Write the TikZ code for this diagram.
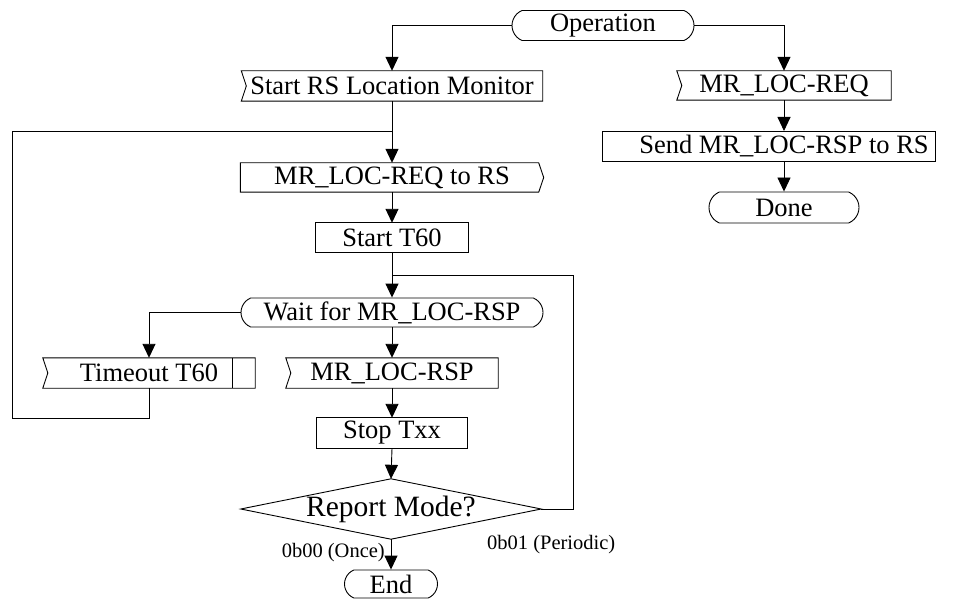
\documentclass[tikz,border=0pt]{standalone}
\usepackage{fontspec}
\setmainfont{Liberation Serif}
\usetikzlibrary{arrows.meta,shapes.misc}
\begin{document}
\begin{tikzpicture}[x=1pt,y=-1pt,
  font=\fontsize{26.5}{30}\selectfont,
  ln/.style={line width=0.9pt},
  arr/.style={ln,-{Triangle[width=13pt,length=14pt]}},
  plain/.style={inner sep=0pt,minimum height=30pt},
  term/.style={rounded rectangle,rounded rectangle arc length=135,draw,ln,inner sep=0pt,minimum height=30pt},
  lbl/.style={font=\fontsize{20.5}{24}\selectfont,inner sep=0pt}]
\useasboundingbox (0,0) rectangle (959,599);
% nodes
\node[term,minimum width=182pt] (op) at (603,25.5) {Operation};
\node[plain,minimum width=301pt] (srs) at (392,86) {Start RS Location Monitor};
\node[plain,minimum width=214pt,minimum height=29pt] (mrq) at (784,85.5) {MR\_LOC-REQ};
\node[plain] (send) at (784,146) {Send MR\_LOC-RSP to RS};
\node[term,minimum width=150pt,minimum height=31pt] (done) at (784,207.5) {Done};
\node[plain,minimum width=303pt,minimum height=29pt] (mrs) at (392,177.5) {MR\_LOC-REQ to RS};
\node[plain,minimum width=153pt,minimum height=29pt] (st) at (392,237.5) {Start T60};
\node[term,minimum width=302pt,minimum height=29pt] (wait) at (392,312.5) {Wait for MR\_LOC-RSP};
\node[plain,minimum width=212pt] (tout) at (149,373) {Timeout T60};
\node[plain,minimum width=212pt] (rsp) at (392,373) {MR\_LOC-RSP};
\node[plain,minimum width=151pt] (stop) at (392,433) {Stop Txx};
\node[plain,minimum width=300pt,minimum height=60pt,font=\fontsize{29.5}{33}\selectfont] (dia) at (391,509) {Report Mode?};
\node[term,minimum width=93pt,minimum height=28pt] (end) at (391,584) {End};
\node[lbl,anchor=east] (once) at (385,553) {0b00 (Once)};
\node[lbl,anchor=west] (per) at (487,545) {0b01 (Periodic)};
% outlines
\foreach \n in {srs,mrq,tout,rsp}
  \draw[ln] (\n.north west) -- (\n.north east) -- (\n.south east) -- (\n.south west) -- ([xshift=5pt]\n.west) -- cycle;
\draw[ln] (mrs.north west) -- ([xshift=-5pt]mrs.north east) -- (mrs.east) -- ([xshift=-5pt]mrs.south east) -- (mrs.south west) -- cycle;
\foreach \n in {st,stop}
  \draw[ln] (\n.north west) rectangle (\n.south east);
\coordinate (sL) at (602,131);
\coordinate (sR) at (935,161);
\draw[ln] (sL) rectangle (sR);
\draw[ln] ([xshift=-23pt]tout.north east) -- ([xshift=-23pt]tout.south east);
\draw[ln] (dia.north) -- (dia.east) -- (dia.south) -- (dia.west) -- cycle;
% coordinates
\coordinate (y131) at (0,131);
\coordinate (y275) at (0,275);
\coordinate (j1) at (srs.south |- y131);
\coordinate (j2) at (st.south |- y275);
\coordinate (lpL) at (12,418);
\coordinate (rr) at (573,275);
% connectors
\draw[arr] (op.west) -| (srs.north);
\draw[arr] (op.east) -| (mrq.north);
\draw[arr] (mrq.south) -- (mrq.south |- sL);
\draw[arr] (send.south |- sR) -- (done.north);
\draw[arr] (srs.south) -- (mrs.north);
\draw[arr] (mrs.south) -- (st.north);
\draw[arr] (st.south) -- (wait.north);
\draw[arr] (wait.west) -| (tout.north);
\draw[arr] (wait.south) -- (rsp.north);
\draw[arr] (rsp.south) -- (stop.north);
\draw[arr] (stop.south) -- (dia.north);
\draw[arr] (dia.south) -- (end.north);
\draw[ln] (tout.south) |- (lpL) |- (j1);
\draw[ln] (dia.east) -| (rr) -- (j2);
\end{tikzpicture}
\end{document}
